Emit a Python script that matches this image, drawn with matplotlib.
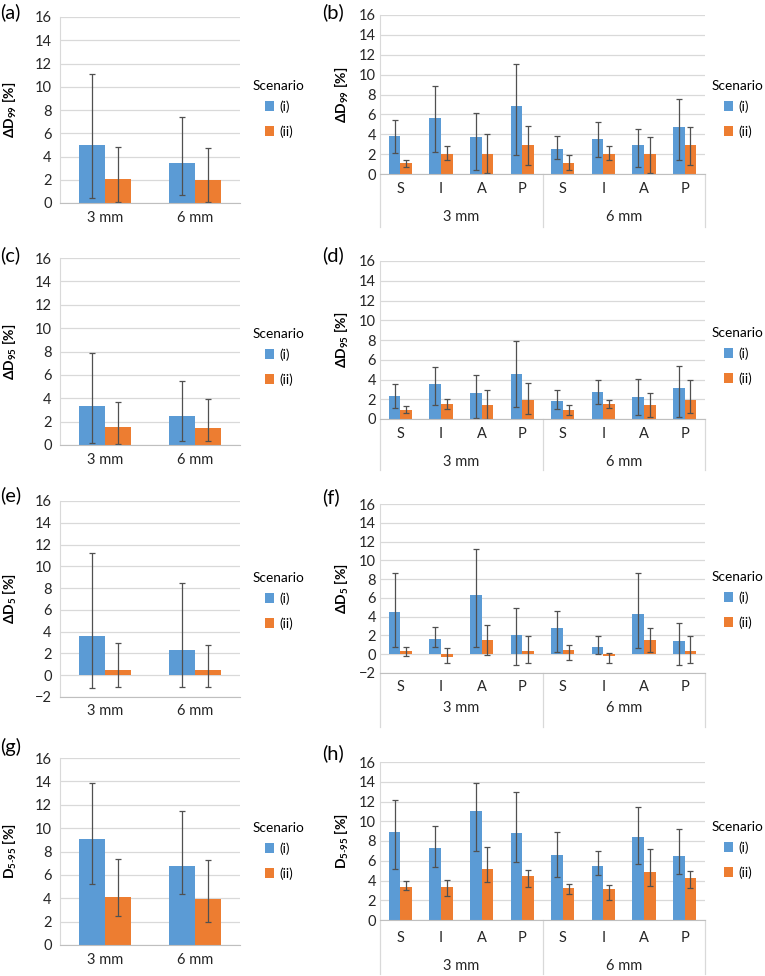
import numpy as np
import matplotlib
matplotlib.use("Agg")
import matplotlib.pyplot as plt
from matplotlib.transforms import blended_transform_factory

plt.rcParams['font.family'] = ['Lato', 'DejaVu Sans']
plt.rcParams['mathtext.fontset'] = 'custom'
plt.rcParams['mathtext.rm'] = 'Lato'
plt.rcParams['mathtext.bf'] = 'Lato:bold'

FS = 10.5
LFS = 9.8
BLUE = '#5B9BD5'
ORANGE = '#ED7D31'
GRID = '#d9d9d9'
ERR = '#505050'

# ---- data (mean, lower, upper of error bar) ----
margins = ['3 mm', '6 mm']
directions = ['S', 'I', 'A', 'P']

# (a) dD99 by margin
a_i = [5.0, 3.4];   a_i_lo = [0.4, 0.7];   a_i_hi = [11.1, 7.4]
a_ii = [2.1, 2.0];  a_ii_lo = [0.1, 0.1];  a_ii_hi = [4.8, 4.75]
# (b) dD99 by direction
b_i = [3.86, 5.6, 3.7, 6.85, 2.5, 3.5, 2.9, 4.7]
b_i_lo = [2.1, 2.2, 0.4, 1.9, 1.5, 1.7, 0.75, 1.4]
b_i_hi = [5.4, 8.85, 6.1, 11.1, 3.8, 5.2, 4.5, 7.5]
b_ii = [1.1, 2.0, 2.0, 2.9, 1.15, 2.0, 2.0, 2.9]
b_ii_lo = [0.75, 1.4, 0.1, 0.95, 0.45, 1.4, 0.1, 0.95]
b_ii_hi = [1.4, 2.8, 4.0, 4.8, 1.9, 2.8, 3.75, 4.75]
# (c) dD95
c_i = [3.3, 2.5];   c_i_lo = [0.2, 0.3];   c_i_hi = [7.85, 5.45]
c_ii = [1.5, 1.45]; c_ii_lo = [0.1, 0.3];  c_ii_hi = [3.65, 3.95]
# (d)
d_i = [2.3, 3.55, 2.6, 4.55, 1.8, 2.75, 2.2, 3.15]
d_i_lo = [1.15, 1.4, 0.15, 1.2, 1.0, 1.5, 0.4, 0.25]
d_i_hi = [3.5, 5.3, 4.5, 7.85, 2.9, 4.0, 4.05, 5.4]
d_ii = [0.95, 1.55, 1.45, 1.95, 0.9, 1.55, 1.4, 1.95]
d_ii_lo = [0.6, 1.0, 0.05, 0.5, 0.45, 1.1, 0.25, 0.6]
d_ii_hi = [1.3, 2.0, 2.95, 3.65, 1.4, 1.9, 2.6, 3.95]
# (e) dD5
e_i = [3.6, 2.3];   e_i_lo = [-1.15, -1.1];  e_i_hi = [11.2, 8.5]
e_ii = [0.5, 0.5];  e_ii_lo = [-1.05, -1.05]; e_ii_hi = [3.0, 2.75]
# (f)
f_i = [4.5, 1.65, 6.3, 2.1, 2.8, 0.75, 4.25, 1.45]
f_i_lo = [0.8, 0.8, 0.8, -1.1, 0.2, 0.0, 0.7, -1.1]
f_i_hi = [8.6, 2.95, 11.25, 4.9, 4.65, 1.9, 8.6, 3.35]
f_ii = [0.3, -0.25, 1.55, 0.3, 0.4, -0.2, 1.55, 0.3]
f_ii_lo = [-0.2, -0.95, -0.05, -0.95, -0.6, -0.9, 0.2, -0.95]
f_ii_hi = [0.8, 0.65, 3.1, 1.9, 0.95, 0.1, 2.8, 1.9]
# (g) D5-95
g_i = [9.05, 6.75]; g_i_lo = [5.25, 4.35]; g_i_hi = [13.9, 11.45]
g_ii = [4.1, 3.9];  g_ii_lo = [2.45, 2.0]; g_ii_hi = [7.4, 7.25]
# (h)
h_i = [8.95, 7.3, 11.05, 8.8, 6.55, 5.45, 8.4, 6.5]
h_i_lo = [5.2, 5.4, 6.95, 5.9, 4.4, 4.6, 5.7, 4.7]
h_i_hi = [12.15, 9.55, 13.85, 13.0, 8.95, 7.0, 11.4, 9.2]
h_ii = [3.35, 3.3, 5.2, 4.5, 3.2, 3.15, 4.9, 4.3]
h_ii_lo = [3.05, 2.4, 3.8, 3.35, 2.65, 2.0, 3.45, 3.2]
h_ii_hi = [3.9, 4.05, 7.35, 5.1, 3.65, 3.55, 7.2, 5.0]

W, H = 765, 976
fig = plt.figure(figsize=(W / 100, H / 100), dpi=100)


def px_axes(x0, x1, ytop, ybot):
    return fig.add_axes([x0 / W, 1 - ybot / H, (x1 - x0) / W, (ybot - ytop) / H])


def draw(ax, si, si_lo, si_hi, sii, sii_lo, sii_hi, ymin, ylabel, letter,
         leg_top, label_x, multi, inner_pad, outer_off, box_px):
    n = len(si)
    x = np.arange(n)
    w = 0.285
    si, sii = np.array(si), np.array(sii)
    ax.set_axisbelow(True)
    ax.yaxis.grid(True, color=GRID, linewidth=0.9)
    ax.bar(x - w / 2, si, w, color=BLUE, label='(i)')
    ax.bar(x + w / 2, sii, w, color=ORANGE, label='(ii)')
    ekw = dict(fmt='none', ecolor=ERR, elinewidth=0.9, capsize=2.5, capthick=0.9)
    ax.errorbar(x - w / 2, si, yerr=[si - np.array(si_lo), np.array(si_hi) - si], **ekw)
    ax.errorbar(x + w / 2, sii, yerr=[sii - np.array(sii_lo), np.array(sii_hi) - sii], **ekw)
    ax.set_ylim(ymin, 16)
    ticks = list(range(ymin, 17, 2))
    ax.set_yticks(ticks)
    ax.set_yticklabels([('\u2212' + str(-t)) if t < 0 else str(t) for t in ticks])
    ax.set_xlim(-0.5, n - 0.5)
    for s in ['top', 'right']:
        ax.spines[s].set_visible(False)
    ax.spines['left'].set_color(GRID)
    ax.spines['bottom'].set_color('#bfbfbf')
    ax.tick_params(length=0, colors='#262626', labelsize=FS)
    ax.set_ylabel(ylabel, fontweight='bold', fontsize=10)
    ax.yaxis.set_label_coords(label_x, 0.5)
    ax.set_xticks(x)
    ax.tick_params(axis='x', pad=inner_pad)
    if multi:
        ax.set_xticklabels(directions * 2)
        ax.tick_params(axis='y', pad=3)
        tr = blended_transform_factory(ax.transData, ax.transAxes)
        for i, m in enumerate(margins):
            ax.annotate(m, xy=(1.5 + 4 * i, 0), xycoords=tr, xytext=(0, -outer_off),
                        textcoords='offset points', ha='center', va='center',
                        fontsize=FS, color='#262626', annotation_clip=False)
        frac = box_px / (ax.get_position().height * H)
        for xs in [-0.5, 3.5, 7.5]:
            ax.plot([xs, xs], [0, -frac], transform=tr, color=GRID, lw=0.9,
                    clip_on=False)
    else:
        ax.set_xticklabels(margins)
        ax.tick_params(axis='y', pad=6)
    fig.text(letter[1] / W, 1 - letter[2] / H, letter[0], fontsize=14.5,
             ha='left', va='center')
    leg = ax.legend(title='Scenario', loc='upper left',
                    bbox_to_anchor=(leg_top[0] / W, 1 - leg_top[1] / H),
                    bbox_transform=fig.transFigure, frameon=False,
                    handlelength=0.7, handleheight=0.7, handletextpad=0.35,
                    labelspacing=0.9, borderpad=0, borderaxespad=0,
                    fontsize=LFS, title_fontsize=LFS)
    leg._legend_box.sep = 6
    return ax


L0, L1 = 60, 240
R0, R1 = 380, 705

lab99 = r'$\mathbf{\Delta D_{99}}$ [%]'
lab95 = r'$\mathbf{\Delta D_{95}}$ [%]'
lab5 = r'$\mathbf{\Delta D_{5}}$ [%]'
lab595 = r'$\mathbf{D_{5\text{-}95}}$ [%]'

ax = px_axes(L0, L1, 17, 203)
draw(ax, a_i, a_i_lo, a_i_hi, a_ii, a_ii_lo, a_ii_hi, 0, lab99, ('(a)', 0, 12),
     (253, 80), -0.23, False, 6, 0, 0)
ax = px_axes(R0, R1, 15, 174)
draw(ax, b_i, b_i_lo, b_i_hi, b_ii, b_ii_lo, b_ii_hi, 0, lab99, ('(b)', 322, 12),
     (712, 80), -0.09, True, 6, 31, 53)

ax = px_axes(L0, L1, 258, 445)
draw(ax, c_i, c_i_lo, c_i_hi, c_ii, c_ii_lo, c_ii_hi, 0, lab95, ('(c)', 0, 255),
     (253, 328), -0.23, False, 6, 0, 0)
ax = px_axes(R0, R1, 261, 419)
draw(ax, d_i, d_i_lo, d_i_hi, d_ii, d_ii_lo, d_ii_hi, 0, lab95, ('(d)', 322, 255),
     (712, 327), -0.09, True, 6, 31, 51)

ax = px_axes(L0, L1, 501, 697)
draw(ax, e_i, e_i_lo, e_i_hi, e_ii, e_ii_lo, e_ii_hi, -2, lab5, ('(e)', 0, 495),
     (253, 572), -0.23, False, 5, 0, 0)
ax = px_axes(R0, R1, 504, 673)
draw(ax, f_i, f_i_lo, f_i_hi, f_ii, f_ii_lo, f_ii_hi, -2, lab5, ('(f)', 322, 497),
     (712, 571), -0.09, True, 5, 25, 54)

ax = px_axes(L0, L1, 758, 945)
draw(ax, g_i, g_i_lo, g_i_hi, g_ii, g_ii_lo, g_ii_hi, 0, lab595, ('(g)', 0, 747),
     (253, 822), -0.23, False, 6, 0, 0)
ax = px_axes(R0, R1, 762, 920)
draw(ax, h_i, h_i_lo, h_i_hi, h_ii, h_ii_lo, h_ii_hi, 0, lab595, ('(h)', 322, 753),
     (712, 821), -0.09, True, 8, 33, 54)

fig.savefig('out.png', dpi=100)
